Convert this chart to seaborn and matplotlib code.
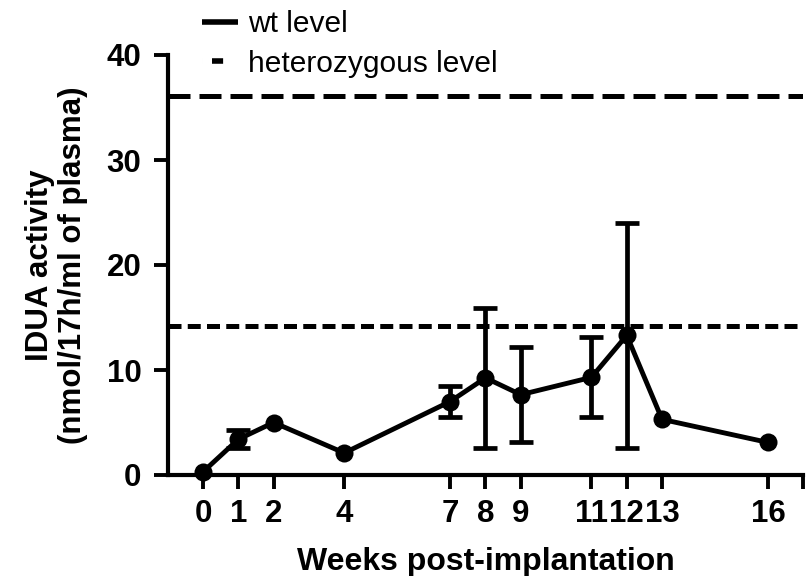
import matplotlib
matplotlib.use("Agg")
import matplotlib.pyplot as plt
import seaborn as sns
import pandas as pd
from matplotlib.lines import Line2D

# ---- data ----
weeks = [0, 1, 2, 4, 7, 8, 9, 11, 12, 13, 16]
idua_activity = [0.3, 3.4, 5.0, 2.1, 7.0, 9.25, 7.65, 9.3, 13.3, 5.3, 3.1]
idua_error = [0.0, 0.85, 0.0, 0.0, 1.5, 6.65, 4.55, 3.8, 10.7, 0.0, 0.0]
wt_level = 36.1
het_level = 14.2
legend_labels = ["wt level", "heterozygous level"]
x_tick_values = [0, 1, 2, 4, 7, 8, 9, 11, 12, 13, 16, 17]
x_tick_labels = ["0", "1", "2", "4", "7", "8", "9", "11", "12", "13", "16", ""]
y_tick_values = [0, 10, 20, 30, 40]

sns.set_style("ticks")
plt.rcParams["font.family"] = ["Liberation Sans", "DejaVu Sans"]
plt.rcParams["text.color"] = "black"
plt.rcParams["axes.labelcolor"] = "black"

fig = plt.figure(figsize=(8.07, 5.76), dpi=100)
ax = fig.add_axes([167.7 / 807, 1 - 475 / 576, (803.3 - 167.7) / 807, (475 - 55) / 576])

df = pd.DataFrame({"week": weeks, "activity": idua_activity, "err": idua_error})

# reference levels
ax.axhline(wt_level, color="black", lw=3.6, dashes=(4.4, 1.8), zorder=1)
ax.axhline(het_level, color="black", lw=3.6, dashes=(2.6, 1.25), zorder=1)

# error bars (only where present)
sub = df[df["err"] > 0]
ax.errorbar(sub["week"], sub["activity"], yerr=sub["err"], fmt="none",
            ecolor="black", elinewidth=3.4, capsize=8.5, capthick=3.4, zorder=2)

sns.lineplot(data=df, x="week", y="activity", ax=ax, color="black",
             linewidth=3.5, marker="o", markersize=13, markeredgecolor="black",
             markeredgewidth=0, zorder=3, clip_on=False)

ax.set_xlim(-1, 17)
ax.set_ylim(0, 40)
ax.set_xticks(x_tick_values)
ax.set_xticklabels(x_tick_labels, fontweight="bold")
ax.set_yticks(y_tick_values)
ax.set_yticklabels([str(v) for v in y_tick_values], fontweight="bold")
ax.tick_params(axis="both", direction="out", length=10, width=2.8,
               labelsize=22.5, color="black", labelcolor="black")
ax.tick_params(axis="y", pad=9)
ax.tick_params(axis="x", pad=7)

for s in ["top", "right"]:
    ax.spines[s].set_visible(False)
for s in ["left", "bottom"]:
    ax.spines[s].set_linewidth(3.0)
    ax.spines[s].set_color("black")

ax.set_xlabel("Weeks post-implantation", fontsize=23, fontweight="bold",
              color="black")
ax.xaxis.set_label_coords(0.5, -0.172)
ax.set_ylabel("IDUA activity\n(nmol/17h/ml of plasma)", fontsize=22.5,
              fontweight="bold", linespacing=1.15, color="black")
ax.yaxis.set_label_coords(-0.125, 0.5)

handles = [
    Line2D([], [], color="black", lw=4, solid_capstyle="butt"),
    Line2D([], [], color="black", lw=4, dashes=(0.001, 1.8, 2.0, 100)),
]
leg = fig.legend(handles, legend_labels, loc="upper left",
                 bbox_to_anchor=(202 / 807, 1 - 10 / 576), frameon=False,
                 handlelength=1.2, handletextpad=0.35, labelspacing=0.4,
                 borderpad=0, borderaxespad=0, fontsize=21.5)
for t in leg.get_texts():
    t.set_color("black")

fig.savefig("out.png", dpi=100, facecolor="white")
